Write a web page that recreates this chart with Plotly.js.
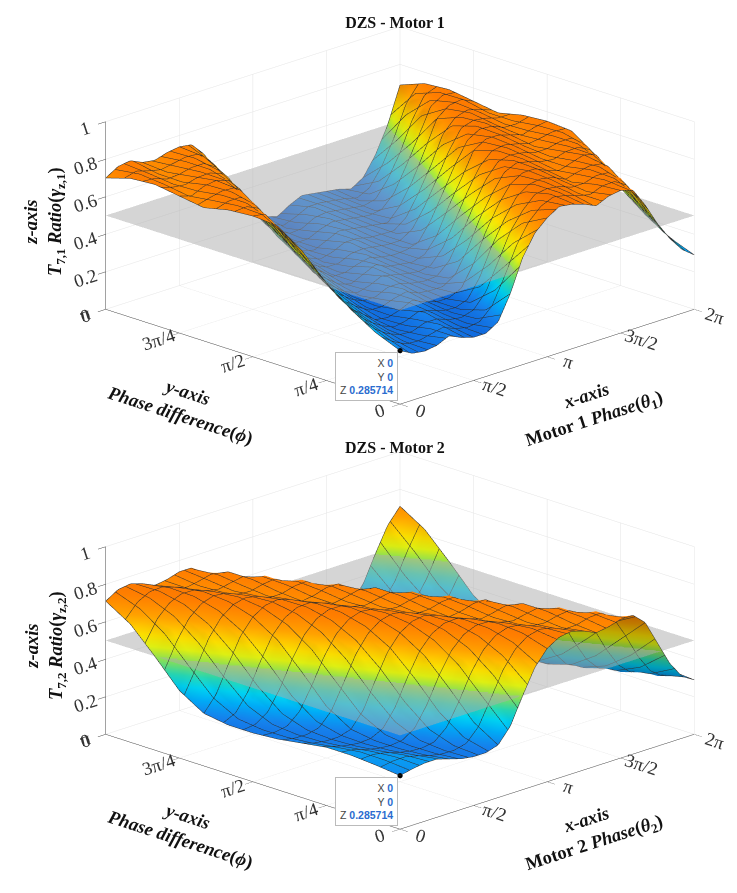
<!DOCTYPE html>
<html><head><meta charset="utf-8">
<script src="https://cdn.plot.ly/plotly-3.0.1.min.js"></script>
<style>html,body{margin:0;padding:0;background:#fff}#plot{width:737px;height:893px}</style>
</head><body><div id="plot"></div>
<script>
// ---- data ----
const xGrid = [0,0.2618,0.5236,0.7854,1.0472,1.3090,1.5708,1.8326,2.0944,2.3562,2.6180,2.8798,3.1416,3.4034,3.6652,3.9270,4.1888,4.4506,4.7124,4.9742,5.2360,5.4978,5.7596,6.0214,6.2832];
const yGrid = [0,0.2618,0.5236,0.7854,1.0472,1.3090,1.5708,1.8326,2.0944,2.3562,2.6180,2.8798,3.1416];

// Motor 1 ratio T7,1 (rows: phase difference, cols: motor 1 phase)
const zMotor1 = [
[0.285714,.25,.24,.25,.28,.25,.23,.23,.27,.40,.57,.68,.74,.78,.77,.75,.72,.75,.76,.74,.64,.52,.42,.34,.29],
[.34,.29,.25,.24,.25,.28,.25,.23,.23,.27,.39,.55,.67,.74,.78,.77,.75,.72,.75,.76,.74,.64,.52,.42,.34],
[.42,.34,.29,.25,.23,.25,.28,.25,.23,.23,.26,.38,.54,.65,.74,.77,.77,.75,.72,.75,.76,.74,.64,.52,.42],
[.52,.42,.34,.29,.24,.23,.25,.28,.25,.23,.23,.26,.37,.52,.64,.73,.77,.77,.74,.72,.74,.76,.74,.64,.52],
[.65,.53,.43,.34,.29,.24,.23,.25,.28,.25,.24,.23,.25,.35,.50,.62,.73,.77,.76,.74,.72,.74,.75,.74,.65],
[.74,.65,.53,.43,.34,.29,.24,.22,.25,.28,.25,.24,.23,.25,.34,.48,.61,.72,.76,.76,.74,.72,.74,.75,.74],
[.75,.74,.65,.53,.43,.34,.29,.24,.22,.25,.28,.25,.24,.23,.25,.33,.47,.59,.72,.76,.76,.74,.72,.74,.75],
[.74,.75,.74,.65,.54,.43,.35,.29,.23,.22,.24,.27,.25,.24,.24,.24,.32,.45,.58,.71,.76,.76,.73,.72,.74],
[.71,.74,.75,.74,.65,.54,.43,.35,.28,.23,.21,.24,.27,.26,.24,.24,.24,.31,.43,.56,.71,.75,.76,.73,.71],
[.73,.71,.74,.75,.73,.66,.54,.44,.35,.28,.23,.21,.24,.27,.26,.25,.24,.23,.30,.41,.55,.70,.75,.76,.73],
[.75,.73,.71,.73,.74,.73,.66,.55,.44,.35,.28,.22,.21,.24,.27,.26,.25,.24,.23,.28,.40,.53,.70,.75,.75],
[.74,.75,.72,.71,.73,.74,.73,.66,.55,.44,.35,.28,.22,.20,.24,.27,.26,.25,.24,.22,.27,.38,.52,.69,.74],
[.70,.74,.75,.72,.71,.73,.74,.73,.66,.55,.44,.35,.28,.22,.20,.24,.27,.26,.25,.24,.22,.26,.36,.50,.69]
];

// Motor 2 ratio T7,2 (rows: phase difference, cols: motor 2 phase)
const zMotor2 = [
[0.285714,.30,.31,.31,.29,.27,.26,.26,.28,.36,.50,.63,.71,.75,.76,.74,.71,.72,.74,.74,.68,.55,.42,.33,.29],
[.30,.31,.31,.29,.27,.26,.26,.28,.36,.50,.63,.71,.75,.76,.74,.71,.72,.74,.74,.68,.55,.42,.33,.29,.30],
[.31,.31,.29,.27,.26,.26,.28,.36,.50,.63,.71,.75,.76,.74,.71,.72,.74,.74,.68,.55,.42,.33,.29,.30,.31],
[.31,.29,.27,.26,.26,.28,.36,.50,.63,.71,.75,.76,.74,.71,.72,.74,.74,.68,.55,.42,.33,.29,.30,.31,.31],
[.29,.27,.26,.26,.28,.36,.50,.63,.71,.75,.76,.74,.71,.72,.74,.74,.68,.55,.42,.33,.29,.30,.31,.31,.29],
[.27,.26,.26,.28,.36,.50,.63,.71,.75,.76,.74,.71,.72,.74,.74,.68,.55,.42,.33,.29,.30,.31,.31,.29,.27],
[.26,.26,.28,.36,.50,.63,.71,.75,.76,.74,.71,.72,.74,.74,.68,.55,.42,.33,.29,.30,.31,.31,.29,.27,.26],
[.26,.28,.36,.50,.63,.71,.75,.76,.74,.71,.72,.74,.74,.68,.55,.42,.33,.29,.30,.31,.31,.29,.27,.26,.26],
[.28,.36,.50,.63,.71,.75,.76,.74,.71,.72,.74,.74,.68,.55,.42,.33,.29,.30,.31,.31,.29,.27,.26,.26,.28],
[.36,.50,.63,.71,.75,.76,.74,.71,.72,.74,.74,.68,.55,.42,.33,.29,.30,.31,.31,.29,.27,.26,.26,.28,.36],
[.50,.63,.71,.75,.76,.74,.71,.72,.74,.74,.68,.55,.42,.33,.29,.30,.31,.31,.29,.27,.26,.26,.28,.36,.50],
[.63,.71,.75,.76,.74,.71,.72,.74,.74,.68,.55,.42,.33,.29,.30,.31,.31,.29,.27,.26,.26,.28,.36,.50,.63],
[.71,.75,.76,.74,.71,.72,.74,.74,.68,.55,.42,.33,.29,.30,.31,.31,.29,.27,.26,.26,.28,.36,.50,.63,.71]
];

const planeLevel = 0.5;
const xTickVals = [0, 1.5708, 3.1416, 4.7124, 6.2832];
const xTickText = ['0', 'π/2', 'π', '3π/2', '2π'];
const yTickVals = [0, 0.7854, 1.5708, 2.3562, 3.1416];
const yTickText = ['0', 'π/4', 'π/2', '3π/4', 'π'];
const zTickVals = [0, 0.2, 0.4, 0.6, 0.8, 1];
const zTickText = ['0', '0.2', '0.4', '0.6', '0.8', '1'];
const tip = {x: 0, y: 0, z: 0.285714};

// ---- styling ----
const serif = 'Liberation Serif, Times New Roman, serif';
const cscale = [
  [0, 'rgb(12,92,212)'], [0.12, 'rgb(22,128,236)'], [0.22, 'rgb(0,172,246)'],
  [0.3, 'rgb(0,214,246)'], [0.38, 'rgb(40,226,190)'], [0.47, 'rgb(135,236,100)'],
  [0.57, 'rgb(232,250,20)'], [0.65, 'rgb(255,226,0)'], [0.78, 'rgb(255,162,0)'],
  [0.9, 'rgb(255,126,0)'], [1, 'rgb(246,110,0)']
];

function surf(z, scene, meshSize) {
  return {
    type: 'surface', x: xGrid, y: yGrid, z: z, scene: scene,
    colorscale: cscale, cmin: 0.2, cmax: 0.8, showscale: false,
    lighting: {ambient: 0.75, diffuse: 0.45, specular: 0.25, roughness: 0.6, fresnel: 0.1},
    contours: {
      x: {show: true, start: 0, end: 6.2832, size: meshSize, color: 'rgb(45,45,45)', width: 1},
      y: {show: true, start: 0, end: 3.1416, size: meshSize, color: 'rgb(45,45,45)', width: 1},
      z: {show: false}
    },
    hoverinfo: 'skip'
  };
}
function plane(scene) {
  return {
    type: 'surface', x: [xGrid[0], xGrid[xGrid.length-1]], y: [yGrid[0], yGrid[yGrid.length-1]],
    z: [[planeLevel, planeLevel], [planeLevel, planeLevel]], scene: scene,
    colorscale: [[0, 'rgb(172,172,172)'], [1, 'rgb(172,172,172)']], showscale: false,
    opacity: 0.5, hoverinfo: 'skip'
  };
}
function dot(scene) {
  return {type: 'scatter3d', mode: 'markers', x: [tip.x], y: [tip.y], z: [tip.z], scene: scene,
    marker: {size: 3, color: '#000'}, hoverinfo: 'skip', showlegend: false};
}
function axis(vals, text, range, tlen) {
  return {
    range: range, tickvals: vals, ticktext: text, title: {text: ''},
    showline: true, linecolor: '#444', linewidth: 1, ticks: 'outside', ticklen: tlen, tickcolor: '#444',
    showgrid: true, gridcolor: '#e4e4e4', gridwidth: 1, zeroline: false, showbackground: false,
    showspikes: false, tickfont: {family: serif, size: 15, color: '#333'}
  };
}
function sceneDef(domainY) {
  return {
    domain: {x: [0.085, 1.0], y: domainY},
    xaxis: axis(xTickVals, xTickText, [0, 6.2832], 11),
    yaxis: axis(yTickVals, yTickText, [0, 3.1416], 11),
    zaxis: axis(zTickVals, zTickText, [0, 1], 5),
    aspectmode: 'manual', aspectratio: {x: 1.94, y: 1.94, z: 0.924},
    camera: {eye: {x: -1.2, y: -1.2, z: 0.578}, center: {x: 0, y: 0, z: 0},
             up: {x: 0, y: 0, z: 1}, projection: {type: 'orthographic'}},
    annotations: [{
      x: tip.x, y: tip.y, z: tip.z, showarrow: false, xanchor: 'right', yanchor: 'top',
      xshift: -2, yshift: -2, align: 'right', bgcolor: '#fff', bordercolor: '#bbb', borderwidth: 1, borderpad: 4,
      font: {family: 'Liberation Sans, Arial, sans-serif', size: 10.5, color: '#444'},
      text: "X <b><span style='color:#2a6ccf'>0</span></b><br>Y <b><span style='color:#2a6ccf'>0</span></b><br>Z <b><span style='color:#2a6ccf'>0.285714</span></b>"
    }]
  };
}
function titleAnn(text, x, y, ang, size) {
  return {text: text, x: x, y: y, xref: 'paper', yref: 'paper', showarrow: false,
    textangle: ang, font: {family: serif, size: size || 18.5, color: '#111'}, xanchor: 'center', yanchor: 'middle'};
}
const anns = [];
[[0, 1], [424, 2]].forEach(function (p) {
  const dy = p[0], n = p[1];
  const py = function (v) { return 1 - (v + dy) / 893; };
  anns.push(titleAnn('<b><i>z-axis</i></b><br><b><i>T</i><sub>7,' + n + '</sub> <i>Ratio</i>(<i>γ</i><sub>z,' + n + '</sub>)</b>', 45/737, py(222), -90));
  anns.push(titleAnn('<b><i>y-axis</i></b><br><b><i>Phase difference</i>(<i>ϕ</i>)</b>', 184/737, py(404), 18));
  anns.push(titleAnn('<b><i>x-axis</i></b><br><b>Motor ' + n + ' <i>Phase</i>(<i>θ</i><sub>' + n + '</sub>)</b>', 590/737, py(408), -18));
});
anns.push(titleAnn('<b>DZS - Motor 2</b>', 395/737, 1 - 447/893, 0, 16));

const data = [surf(zMotor1, 'scene', 0.19635), plane('scene'), dot('scene'),
              surf(zMotor2, 'scene2', 0.20944), plane('scene2'), dot('scene2')];
const layout = {
  width: 737, height: 893, margin: {l: 0, r: 0, t: 0, b: 0},
  paper_bgcolor: '#fff', showlegend: false,
  title: {text: '<b>DZS - Motor 1</b>', x: 395/737, xanchor: 'center', y: 1 - 22/893, yanchor: 'middle',
          font: {family: serif, size: 16, color: '#111'}},
  scene: sceneDef([0.5194, 0.9994]),
  scene2: sceneDef([0.0429, 0.5229]),
  annotations: anns
};
Plotly.newPlot('plot', data, layout, {displayModeBar: false});
</script></body></html>
